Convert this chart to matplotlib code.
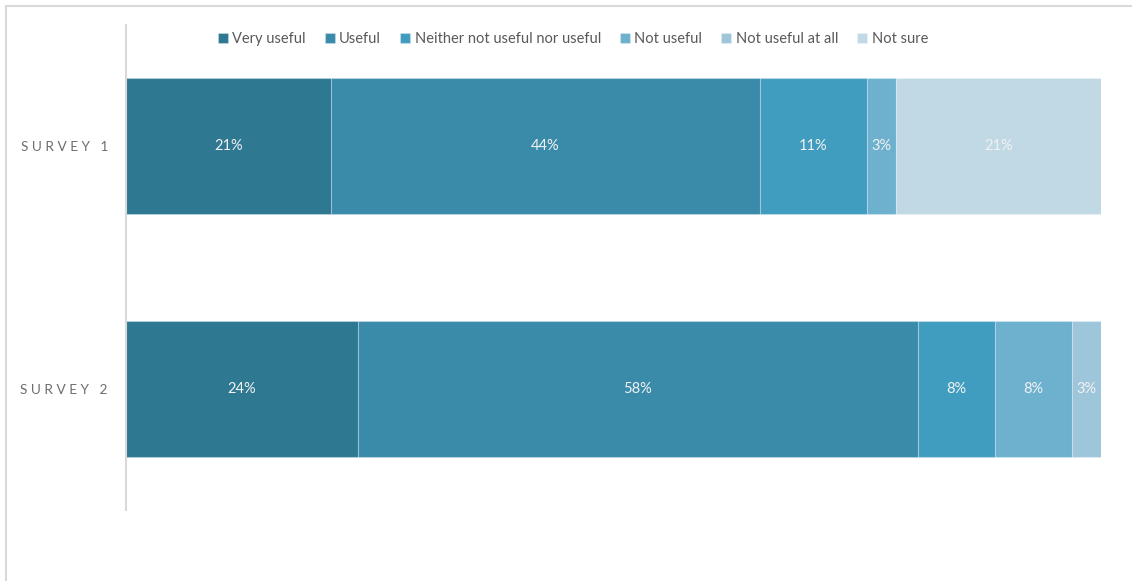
import matplotlib.pyplot as plt
import numpy as np
from matplotlib.patches import Rectangle

plt.rcParams["font.family"] = ["Lato", "DejaVu Sans"]

surveys = ["S U R V E Y   1", "S U R V E Y   2"]
responses = [
    "Very useful",
    "Useful",
    "Neither not useful nor useful",
    "Not useful",
    "Not useful at all",
    "Not sure",
]
# percentages per response, one row per survey
survey_1 = [21, 44, 11, 3, 0, 21]
survey_2 = [24, 58, 8, 8, 3, 0]
colors = ["#2E7891", "#3A8BAA", "#419DBF", "#6DB1CF", "#9EC6DB", "#C1D8E5"]

values = np.array([survey_1, survey_2], dtype=float)
# 100% stacked: scale each row to its own total
shares = values / values.sum(axis=1, keepdims=True) * 100

fig = plt.figure(figsize=(11.32, 5.81), dpi=100)
ax = fig.add_axes([126 / 1132, 71 / 581, 975 / 1132, 485 / 581])

y = np.arange(len(surveys))
left = np.zeros(len(surveys))
for i, (name, color) in enumerate(zip(responses, colors)):
    bars = ax.barh(y, shares[:, i], left=left, height=0.56, color=color,
                   edgecolor=(1, 1, 1, 0.25), linewidth=0.8, label=name)
    for j, b in enumerate(bars):
        if values[j, i] > 0:
            ax.text(b.get_x() + b.get_width() / 2, b.get_y() + b.get_height() / 2,
                    f"{values[j, i]:.0f}%", ha="center", va="center",
                    color="#F2F2F2", fontsize=10.5)
    left += shares[:, i]

ax.set_xlim(0, 100)
ax.set_ylim(1.5, -0.5)
ax.set_yticks(y)
ax.set_yticklabels(surveys, color="#6E6E6E", fontsize=9.8)
ax.tick_params(axis="y", length=0, pad=13)
ax.set_xticks([])
for side in ["top", "right", "bottom"]:
    ax.spines[side].set_visible(False)
ax.spines["left"].set_color("#D9D9D9")
ax.spines["left"].set_linewidth(1.5)

fig.legend(loc="center", bbox_to_anchor=(0.506, 1 - 39 / 581), ncol=6,
           frameon=False, fontsize=10.5, labelcolor="#595959",
           handlelength=0.7, handleheight=0.7, handletextpad=0.3,
           columnspacing=1.3)

# chart frame
fig.patches.append(Rectangle((5.5 / 1132, -0.1), 1.2, 1 - 5.5 / 581 + 0.1,
                             transform=fig.transFigure, fill=False,
                             edgecolor="#D9D9D9", linewidth=1.5))

fig.savefig("out.png", dpi=100)
